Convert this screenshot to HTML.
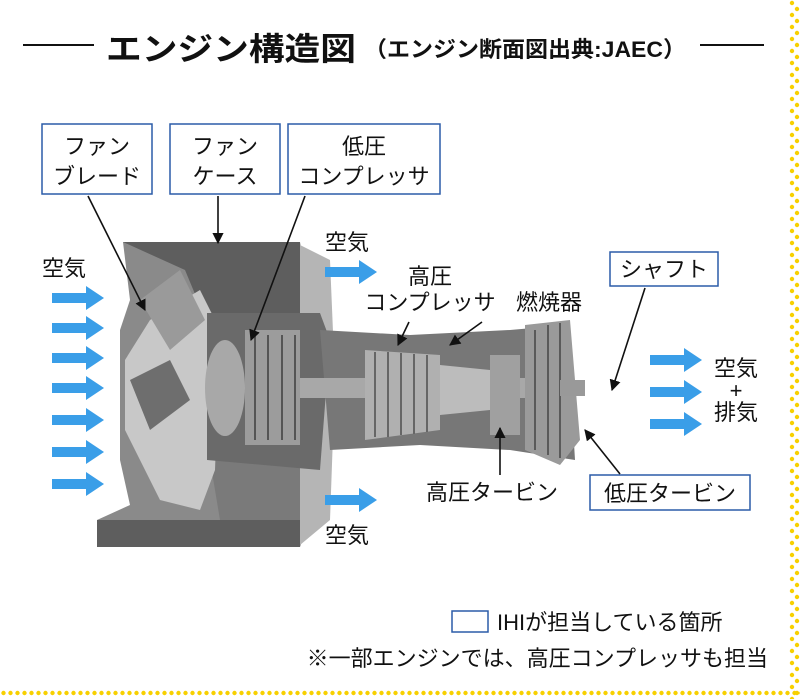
<!DOCTYPE html>
<html><head><meta charset="utf-8"><style>
html,body{margin:0;padding:0;background:#fff}
svg{display:block}
text{font-family:"Liberation Sans","Noto Sans CJK JP",sans-serif;fill:#111}
</style></head><body>
<svg width="800" height="699" viewBox="0 0 800 699" xmlns="http://www.w3.org/2000/svg">
<defs>
<pattern id="dotsB" x="0" y="689" width="7" height="10" patternUnits="userSpaceOnUse">
<circle cx="3.5" cy="4" r="2.2" fill="#f7d000"/>
</pattern>
<pattern id="dotsR" x="788" y="0" width="12" height="12" patternUnits="userSpaceOnUse">
<circle cx="4" cy="3" r="2.2" fill="#f7d000"/><circle cx="9" cy="9" r="2.2" fill="#f7d000"/>
</pattern>
<marker id="ah" viewBox="0 0 10 10" refX="9" refY="5" markerWidth="7" markerHeight="7" orient="auto"><path d="M0,0 L10,5 L0,10 z" fill="#111"/></marker>
<g id="ba"><rect x="0" y="-5" width="36" height="10" fill="#3a9ee8"/><path d="M34,-12 L52,0 L34,12 z" fill="#3a9ee8"/></g>
</defs>
<rect width="800" height="699" fill="#fff"/>
<rect x="788" y="0" width="12" height="699" fill="url(#dotsR)"/>
<rect x="0" y="689" width="800" height="10" fill="url(#dotsB)"/>

<!-- title -->
<line x1="23" y1="45" x2="94" y2="45" stroke="#111" stroke-width="2"/>
<text x="106" y="60" font-size="32" font-weight="bold" textLength="250" lengthAdjust="spacingAndGlyphs">エンジン構造図</text>
<text x="364" y="57" font-size="22" font-weight="bold" textLength="322" lengthAdjust="spacingAndGlyphs">（エンジン断面図出典:JAEC）</text>
<line x1="700" y1="45" x2="764" y2="45" stroke="#111" stroke-width="2"/>

<!-- engine -->
<path d="M123,242 L300,242 L310,300 L330,320 L330,470 L310,520 L300,547 L97,547 L97,520 L130,505 L120,460 L120,330 L130,300 Z" fill="#8a8a8a"/>
<path d="M123,242 L300,242 L300,330 L210,330 L185,270 Z" fill="#5e5e5e"/>
<path d="M97,520 L300,520 L300,547 L97,547 Z" fill="#5e5e5e"/>
<path d="M210,460 L300,460 L300,520 L220,520 Z" fill="#7a7a7a"/>
<path d="M300,245 L330,260 L335,380 L330,520 L300,545 Z" fill="#b5b5b5"/>
<path d="M125,360 L150,320 L200,290 L220,330 L215,470 L200,510 L160,500 L125,430 Z" fill="#c8c8c8"/>
<path d="M140,300 L180,270 L205,320 L170,350 Z" fill="#9a9a9a"/>
<path d="M130,380 L170,360 L190,400 L150,430 Z" fill="#6e6e6e"/>
<path d="M207,313 L320,313 L330,340 L320,470 L207,460 Z" fill="#6a6a6a"/>
<ellipse cx="225" cy="388" rx="20" ry="48" fill="#a8a8a8"/>
<rect x="245" y="330" width="55" height="115" fill="#9c9c9c"/>
<g stroke="#555" stroke-width="2">
<line x1="255" y1="335" x2="255" y2="440"/><line x1="268" y1="335" x2="268" y2="440"/><line x1="282" y1="335" x2="282" y2="440"/><line x1="295" y1="335" x2="295" y2="440"/>
</g>
<path d="M320,330 L410,335 L510,330 L567,325 L575,460 L510,450 L420,445 L330,450 Z" fill="#777"/>
<rect x="300" y="378" width="270" height="20" fill="#a8a8a8"/>
<path d="M365,350 L440,355 L440,430 L365,440 Z" fill="#b0b0b0"/>
<g stroke="#666" stroke-width="2">
<line x1="375" y1="352" x2="375" y2="437"/><line x1="388" y1="352" x2="388" y2="437"/><line x1="401" y1="353" x2="401" y2="435"/><line x1="414" y1="354" x2="414" y2="434"/><line x1="427" y1="355" x2="427" y2="432"/>
</g>
<path d="M440,365 L490,370 L490,410 L440,415 Z" fill="#bcbcbc"/>
<rect x="490" y="355" width="30" height="80" fill="#a0a0a0"/>
<path d="M525,325 L570,320 L580,440 L560,465 L525,450 Z" fill="#9a9a9a"/>
<g stroke="#5a5a5a" stroke-width="2">
<line x1="535" y1="330" x2="535" y2="450"/><line x1="548" y1="325" x2="548" y2="455"/><line x1="560" y1="323" x2="560" y2="458"/>
</g>
<rect x="560" y="380" width="25" height="16" fill="#999"/>

<!-- arrows -->
<use href="#ba" x="52" y="298"/><use href="#ba" x="52" y="328"/><use href="#ba" x="52" y="358"/><use href="#ba" x="52" y="388"/><use href="#ba" x="52" y="420"/><use href="#ba" x="52" y="452"/><use href="#ba" x="52" y="484"/>
<use href="#ba" x="325" y="272"/><use href="#ba" x="325" y="500"/>
<use href="#ba" x="650" y="360"/><use href="#ba" x="650" y="392"/><use href="#ba" x="650" y="424"/>

<!-- label boxes -->
<g fill="#fff" stroke="#2b5ca8" stroke-width="1.5">
<rect x="42" y="124" width="110" height="70"/>
<rect x="170" y="124" width="110" height="70"/>
<rect x="288" y="124" width="152" height="70"/>
<rect x="610" y="252" width="108" height="34"/>
<rect x="590" y="475" width="160" height="35"/>
<rect x="452" y="611" width="36" height="21"/>
</g>
<g font-size="22">
<text x="97" y="154" text-anchor="middle">ファン</text><text x="97" y="184" text-anchor="middle">ブレード</text>
<text x="225" y="154" text-anchor="middle">ファン</text><text x="225" y="184" text-anchor="middle">ケース</text>
<text x="364" y="154" text-anchor="middle">低圧</text><text x="364" y="184" text-anchor="middle">コンプレッサ</text>
<text x="664" y="277" text-anchor="middle">シャフト</text>
<text x="670" y="501" text-anchor="middle">低圧タービン</text>
<text x="42" y="276">空気</text>
<text x="325" y="250">空気</text>
<text x="325" y="543">空気</text>
<text x="430" y="284" text-anchor="middle">高圧</text>
<text x="430" y="310" text-anchor="middle">コンプレッサ</text>
<text x="516" y="310">燃焼器</text>
<text x="736" y="376" text-anchor="middle">空気</text>
<text x="736" y="398" text-anchor="middle">+</text>
<text x="736" y="420" text-anchor="middle">排気</text>
<text x="426" y="500">高圧タービン</text>
<text x="497" y="630">IHIが担当している箇所</text>
<text x="768" y="666" text-anchor="end">※一部エンジンでは、高圧コンプレッサも担当</text>
</g>

<!-- leaders -->
<g stroke="#111" stroke-width="1.6" marker-end="url(#ah)">
<line x1="88" y1="196" x2="145" y2="310"/>
<line x1="218" y1="196" x2="218" y2="243"/>
<line x1="305" y1="196" x2="251" y2="340"/>
<line x1="409" y1="322" x2="398" y2="345"/>
<line x1="482" y1="322" x2="450" y2="345"/>
<line x1="645" y1="288" x2="612" y2="390"/>
<line x1="620" y1="474" x2="585" y2="430"/>
<line x1="500" y1="475" x2="500" y2="428"/>
</g>
</svg>
</body></html>
